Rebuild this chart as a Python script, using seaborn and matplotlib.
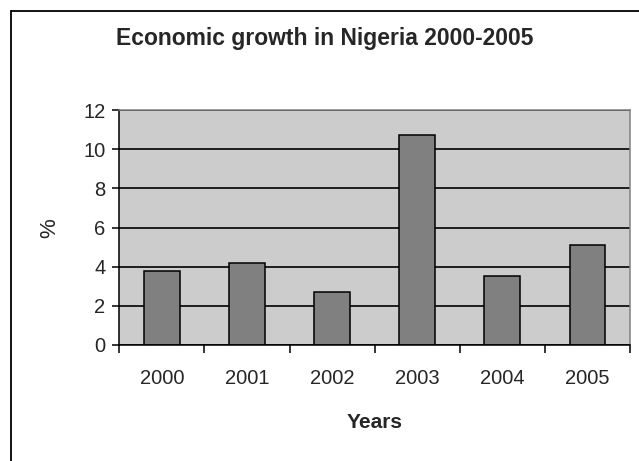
import matplotlib
matplotlib.use("Agg")
import matplotlib.pyplot as plt
import seaborn as sns
import pandas as pd
from matplotlib.lines import Line2D

# data
years = ["2000", "2001", "2002", "2003", "2004", "2005"]
growth = [3.8, 4.2, 2.7, 10.7, 3.5, 5.1]

df = pd.DataFrame({"year": years, "growth": growth})

sns.set_style("white")
plt.rcParams["font.family"] = ["Liberation Sans", "DejaVu Sans"]

fig = plt.figure(figsize=(6.39, 4.61), dpi=100)
ax = fig.add_axes([119.3 / 639, 116 / 461, (630 - 119.3) / 639, 235 / 461])
ax.set_facecolor("#cccccc")

sns.barplot(data=df, x="year", y="growth", color="#808080", saturation=1,
            edgecolor="black", linewidth=1.1, width=0.42, ax=ax)

ax.set_ylim(0, 12)
ax.set_xlim(-0.5, len(years) - 0.5)
ax.set_yticks(range(0, 13, 2))
ax.yaxis.grid(True, color="black", linewidth=1.2)
ax.set_axisbelow(True)

# category boundary ticks on x, labels centred
ax.set_xticks([i - 0.5 for i in range(len(years) + 1)], minor=True)
ax.tick_params(axis="x", which="major", length=0, pad=17, labelsize=14.5)
ax.tick_params(axis="x", which="minor", direction="out", length=6,
               width=1.1, color="black", bottom=True)
ax.tick_params(axis="y", direction="out", length=5, width=1.1,
               color="black", left=True, pad=5, labelsize=14.5)

for side in ["left", "bottom"]:
    ax.spines[side].set_color("black")
    ax.spines[side].set_linewidth(1.1)
for side in ["top", "right"]:
    ax.spines[side].set_visible(True)
    ax.spines[side].set_color("#808080")
    ax.spines[side].set_linewidth(1.1)

ax.set_xlabel("")
ax.set_ylabel("")

fig.text(324.5 / 639, 1 - 45 / 461, "Economic growth in Nigeria 2000-2005",
         ha="center", va="baseline", fontsize=16.5, fontweight="bold")
fig.text(374.5 / 639, 1 - 428 / 461, "Years", ha="center", va="baseline",
         fontsize=15, fontweight="bold")
fig.text(50 / 639, 1 - 228 / 461, "%", ha="center", va="center",
         rotation=90, fontsize=16)

# chart area border (right and bottom edges fall outside the image)
x0, y0 = 11 / 639, 1 - 11 / 461
fig.add_artist(Line2D([x0, x0], [0, y0], color="black", linewidth=1.3))
fig.add_artist(Line2D([x0, 1], [y0, y0], color="black", linewidth=1.3))

fig.savefig("out.png", dpi=100)
